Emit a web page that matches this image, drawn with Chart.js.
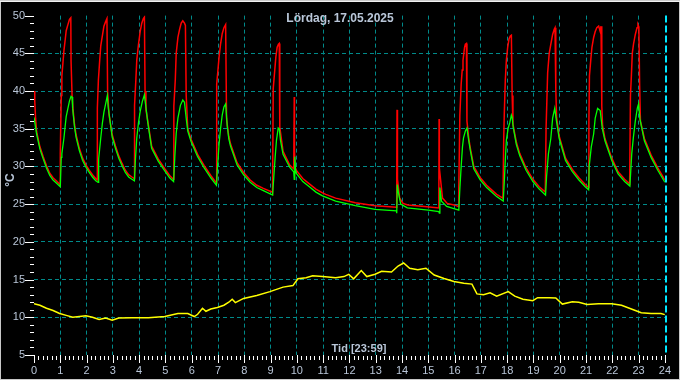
<!DOCTYPE html>
<html>
<head>
<meta charset="utf-8">
<script src="https://cdn.jsdelivr.net/npm/chart.js@4.4.1/dist/chart.umd.min.js"></script>
<style>
  html, body { margin: 0; padding: 0; background: #000; }
  canvas { display: block; }
</style>
</head>
<body>
<canvas id="tempChart" width="680" height="380"></canvas>
<script>
// supply (red), return (green), outdoor (yellow) - hours 0..24
var titleText = 'Lördag, 17.05.2025';
var xTitle = 'Tid [23:59]';
var yTitle = '°C';
var hourTicks = [0, 24];
var tempTicks = [5, 50];

var redTime = [0.00, 0.03, 0.06, 0.10, 0.225, 0.35, 0.475, 0.60, 0.725, 0.85, 0.99,
    1.00, 1.037, 1.06, 1.10, 1.14, 1.19, 1.225, 1.29, 1.35, 1.40, 1.41, 1.45, 1.50, 1.54, 1.60, 1.725, 1.85, 1.975, 2.10, 2.225, 2.35, 2.40,
    2.41, 2.45, 2.50, 2.54, 2.60, 2.66, 2.725, 2.775, 2.80, 2.85, 2.975, 3.10, 3.225, 3.35, 3.475, 3.60, 3.725, 3.81,
    3.825, 3.875, 3.91, 3.975, 4.04, 4.10, 4.16, 4.20, 4.225, 4.26, 4.325, 4.475, 4.725, 4.975, 5.16, 5.30,
    5.32, 5.375, 5.41, 5.475, 5.54, 5.60, 5.66, 5.725, 5.76, 5.79, 5.85, 5.975, 6.225, 6.475, 6.725, 6.94,
    6.95, 7.04, 7.10, 7.16, 7.225, 7.29, 7.325, 7.35, 7.41, 7.475, 7.725, 7.975, 8.225, 8.475, 8.725, 9.06,
    9.075, 9.10, 9.16, 9.20, 9.25, 9.30, 9.33, 9.35, 9.475, 9.725, 9.88, 9.90, 9.91, 9.93, 9.975, 10.225, 10.475, 10.725, 10.975, 11.1, 11.475, 12.225, 12.975, 13.79,
    13.80, 13.81, 13.82, 13.835, 13.91, 14.04, 14.22, 14.85, 15.40, 15.41, 15.42, 15.54, 15.72, 15.975, 16.15,
    16.16, 16.20, 16.25, 16.29, 16.32, 16.38, 16.41, 16.45, 16.47, 16.54, 16.60, 16.73, 16.98, 17.22, 17.41, 17.60, 17.84,
    17.87, 17.89, 17.93, 17.97, 18.02, 18.07, 18.12, 18.16, 18.19, 18.22, 18.35, 18.48, 18.72, 18.98, 19.22, 19.45,
    19.48, 19.54, 19.60, 19.66, 19.73, 19.79, 19.82, 19.85, 19.88, 19.98, 20.22, 20.48, 20.73, 20.97, 21.10,
    21.11, 21.13, 21.18, 21.225, 21.29, 21.35, 21.41, 21.48, 21.54, 21.57, 21.60, 21.63, 21.72, 21.98, 22.22, 22.47, 22.66,
    22.69, 22.725, 22.76, 22.81, 22.875, 22.94, 22.975, 23.01, 23.04, 23.07, 23.22, 23.475, 23.73, 24.0];
var redTemp = [40.0, 38.6, 36.4, 34.6, 32.6, 31.3, 30.1, 29.1, 28.5, 28.1, 27.6,
    31.7, 39.4, 42.0, 43.7, 45.4, 46.9, 48.0, 48.8, 49.5, 49.7, 43.9, 39.2, 37.0, 35.6, 34.2, 32.4, 31.1, 30.2, 29.5, 28.9, 28.4, 28.2,
    37.7, 41.5, 44.1, 46.0, 47.3, 48.6, 49.2, 49.6, 39.9, 37.0, 34.2, 32.7, 31.4, 30.4, 29.5, 28.9, 28.6, 28.4,
    38.1, 41.5, 44.1, 46.2, 47.9, 49.0, 49.6, 49.8, 40.0, 37.5, 36.1, 32.7, 31.0, 29.7, 28.8, 28.3,
    38.0, 41.5, 45.0, 47.1, 48.2, 49.0, 49.3, 49.0, 48.7, 39.4, 35.0, 33.6, 31.6, 30.1, 28.8, 27.8,
    40.9, 44.5, 46.3, 47.6, 48.4, 48.8, 36.4, 35.6, 34.0, 33.0, 30.5, 29.2, 28.2, 27.5, 27.1, 26.6,
    26.5, 40.3, 42.8, 44.5, 45.8, 46.2, 46.3, 35.2, 32.0, 30.2, 29.7, 39.2, 32.2, 30.0, 29.5, 28.4, 27.7, 27.0, 26.5, 26.3, 25.8, 25.2, 24.8, 24.6,
    28.3, 37.5, 31.7, 28.3, 25.8, 25.1, 24.9, 24.7, 24.5, 36.3, 29.8, 25.8, 25.1, 24.9, 24.7,
    27.0, 36.8, 40.9, 42.8, 44.1, 45.8, 46.2, 46.3, 36.0, 33.7, 32.4, 30.0, 28.5, 27.5, 26.9, 26.3, 25.8,
    33.8, 36.9, 41.5, 44.1, 45.8, 46.9, 47.3, 47.4, 39.4, 35.6, 33.2, 31.7, 29.8, 28.3, 27.3, 26.6,
    35.0, 42.4, 45.0, 46.2, 47.5, 48.2, 48.4, 40.3, 36.5, 34.0, 31.1, 29.6, 28.5, 27.6, 27.2,
    36.0, 42.0, 44.1, 45.8, 47.1, 47.9, 48.4, 48.6, 47.9, 48.6, 38.0, 35.4, 33.7, 31.1, 29.3, 28.3, 27.7,
    39.4, 42.0, 45.0, 46.3, 47.5, 48.4, 48.8, 48.5, 40.7, 36.0, 33.7, 31.5, 29.8, 28.2];

var greenTime = [0.00, 0.10, 0.225, 0.35, 0.475, 0.60, 0.725, 0.85, 1.00,
    1.037, 1.06, 1.14, 1.19, 1.225, 1.29, 1.35, 1.41, 1.45, 1.47, 1.54, 1.60, 1.725, 1.85, 1.975, 2.10, 2.225, 2.35, 2.44,
    2.46, 2.54, 2.60, 2.66, 2.725, 2.79, 2.82, 2.87, 2.975, 3.10, 3.225, 3.35, 3.475, 3.60, 3.725, 3.82,
    3.86, 3.91, 3.975, 4.04, 4.12, 4.20, 4.25, 4.325, 4.475, 4.725, 4.975, 5.16, 5.31,
    5.36, 5.41, 5.475, 5.57, 5.66, 5.725, 5.79, 5.85, 5.975, 6.225, 6.475, 6.725, 6.94,
    6.975, 7.04, 7.10, 7.16, 7.225, 7.29, 7.35, 7.41, 7.475, 7.725, 7.975, 8.225, 8.475, 8.725, 9.075,
    9.125, 9.175, 9.225, 9.29, 9.33, 9.375, 9.475, 9.725, 9.88, 9.90, 9.92, 9.95, 9.975, 10.225, 10.475, 10.725, 10.975, 11.475, 12.225, 12.975, 13.79,
    13.80, 13.82, 13.86, 13.95, 14.2, 15.0, 15.40, 15.42, 15.44, 15.5, 15.7, 16.16,
    16.20, 16.25, 16.30, 16.34, 16.41, 16.47, 16.54, 16.60, 16.73, 16.98, 17.22, 17.41, 17.60, 17.85,
    17.89, 17.93, 17.97, 18.04, 18.10, 18.16, 18.19, 18.23, 18.35, 18.48, 18.72, 18.98, 19.22, 19.46,
    19.50, 19.57, 19.66, 19.73, 19.81, 19.86, 19.98, 20.22, 20.48, 20.73, 20.97, 21.10,
    21.12, 21.20, 21.29, 21.35, 21.44, 21.54, 21.62, 21.72, 21.98, 22.22, 22.47, 22.67,
    22.69, 22.74, 22.80, 22.875, 22.95, 23.00, 23.05, 23.22, 23.475, 23.73, 24.0];
var greenTemp = [36.5, 34.3, 32.3, 31.0, 29.8, 28.8, 28.2, 27.8, 27.3,
    31.2, 31.7, 33.8, 35.5, 36.6, 37.7, 38.7, 39.3, 39.2, 37.7, 35.3, 33.9, 32.1, 30.8, 29.9, 29.2, 28.6, 28.1, 27.9,
    31.0, 33.8, 35.7, 37.2, 38.3, 39.4, 38.0, 36.6, 33.9, 32.4, 31.1, 30.1, 29.2, 28.6, 28.3, 28.1,
    31.0, 33.8, 35.8, 37.3, 38.6, 39.5, 38.1, 35.9, 32.4, 30.7, 29.4, 28.5, 28.0,
    31.5, 34.4, 36.4, 38.1, 38.8, 38.5, 36.4, 34.7, 33.3, 31.3, 29.8, 28.5, 27.5,
    29.6, 33.0, 35.1, 36.8, 37.9, 38.3, 35.4, 33.7, 32.7, 30.2, 28.9, 27.9, 27.2, 26.8, 26.2,
    28.7, 31.3, 33.5, 35.1, 35.0, 33.5, 31.6, 29.9, 29.3, 28.3, 31.3, 29.5, 29.1, 28.0, 27.3, 26.6, 26.1, 25.4, 24.8, 24.3, 24.1,
    23.8, 27.6, 26.6, 25.0, 24.5, 24.2, 24.0, 23.8, 27.2, 25.4, 24.7, 24.2,
    27.0, 30.0, 32.6, 33.8, 34.7, 35.1, 33.4, 32.1, 29.7, 28.2, 27.2, 26.6, 26.0, 25.4,
    27.9, 30.9, 33.5, 35.1, 35.8, 36.8, 36.5, 35.2, 32.9, 31.4, 29.5, 28.0, 27.0, 26.2,
    28.7, 31.7, 33.7, 36.4, 37.7, 36.4, 33.7, 30.8, 29.3, 28.2, 27.3, 26.9,
    30.0, 32.6, 34.3, 36.4, 37.7, 37.4, 35.0, 33.4, 30.8, 29.0, 28.0, 27.4,
    28.7, 31.7, 33.8, 36.0, 37.7, 38.3, 36.3, 33.4, 31.2, 29.5, 27.9];

var outTime = [0.0, 0.225, 0.475, 0.725, 0.975, 1.225, 1.475, 1.725, 1.975, 2.225, 2.475, 2.725, 2.975, 3.225, 3.725,
    4.35, 4.975, 5.475, 5.85, 6.1, 6.225, 6.41, 6.54, 6.725, 6.975, 7.225, 7.41, 7.54, 7.66, 7.975, 8.475, 8.975,
    9.475, 9.85, 10.04, 10.35, 10.6, 10.975, 11.475, 11.79, 11.975, 12.16, 12.45, 12.66, 12.975, 13.225, 13.6,
    13.85, 14.06, 14.29, 14.6, 14.91, 15.225, 15.6, 15.975, 16.35, 16.66, 16.85, 17.1, 17.35, 17.6, 18.04, 18.29,
    18.6, 18.975, 19.16, 19.6, 19.85, 20.1, 20.48, 20.725, 21.04, 21.475, 21.975, 22.35, 22.725, 23.1, 23.475, 23.85, 24.0];
var outTemp = [11.8, 11.6, 11.2, 10.9, 10.5, 10.25, 10.0, 10.1, 10.2, 10.0, 9.7, 9.9, 9.6, 9.9, 9.95,
    9.95, 10.1, 10.5, 10.5, 10.1, 10.4, 11.2, 10.8, 11.1, 11.3, 11.6, 12.0, 12.4, 11.95, 12.5, 12.9, 13.4,
    14.0, 14.2, 15.1, 15.25, 15.5, 15.4, 15.25, 15.4, 15.7, 15.1, 16.2, 15.4, 15.7, 16.1, 16.0,
    16.8, 17.2, 16.5, 16.3, 16.5, 15.6, 15.15, 14.75, 14.5, 14.4, 13.1, 13.0, 13.25, 12.8, 13.4, 12.8,
    12.4, 12.2, 12.6, 12.6, 12.55, 11.75, 12.05, 12.0, 11.7, 11.8, 11.8, 11.6, 11.1, 10.6, 10.5, 10.5, 10.35];

function toPoints(times, temps) {
    return times.map(function(t, i) { return { x: t, y: temps[i] }; });
}

var labelColor = '#b9c6d8';
var gridColor = '#008a8a';

var decorPlugin = {
    id: 'decor',
    beforeDraw: function(chart) {
        var ctx = chart.ctx;
        ctx.save();
        ctx.fillStyle = '#000000';
        ctx.fillRect(0, 0, chart.width, chart.height);
        ctx.restore();
    },
    afterDraw: function(chart) {
        var ctx = chart.ctx;
        var x = chart.scales.x, y = chart.scales.y, a = chart.chartArea;
        ctx.save();
        // tick marks (minor + major)
        ctx.strokeStyle = '#ffffff';
        ctx.lineWidth = 1;
        ctx.beginPath();
        for (var v = tempTicks[0]; v <= tempTicks[1]; v++) {
            var py = Math.round(y.getPixelForValue(v)) + 0.5;
            var len = v % 5 === 0 ? 9 : 4;
            ctx.moveTo(a.left - len, py);
            ctx.lineTo(a.left, py);
        }
        for (var m = hourTicks[0] * 6; m <= hourTicks[1] * 6; m++) {
            var px = Math.round(x.getPixelForValue(m / 6)) + 0.5;
            if (m % 6 === 0) {
                ctx.moveTo(px, a.bottom);
                ctx.lineTo(px, a.bottom + 8);
            } else {
                ctx.moveTo(px, a.bottom + 1);
                ctx.lineTo(px, a.bottom + 5);
            }
        }
        ctx.stroke();

        // current time marker
        var nowX = Math.round(x.getPixelForValue(hourTicks[1])) + 1;
        ctx.strokeStyle = '#00e8ff';
        ctx.lineWidth = 2;
        ctx.setLineDash([7, 3]);
        ctx.beginPath();
        ctx.moveTo(nowX, a.top);
        ctx.lineTo(nowX, a.bottom);
        ctx.stroke();
        ctx.setLineDash([]);

        // texts
        ctx.fillStyle = labelColor;
        ctx.textAlign = 'center';
        ctx.textBaseline = 'middle';
        ctx.font = 'bold 12px "Liberation Sans", Arial, sans-serif';
        ctx.fillText(titleText, chart.width / 2, 19);
        ctx.font = 'bold 11px "Liberation Sans", Arial, sans-serif';
        ctx.fillText(xTitle, 359, 349);
        ctx.save();
        ctx.translate(11, 180);
        ctx.rotate(-Math.PI / 2);
        ctx.font = 'bold 12px "Liberation Sans", Arial, sans-serif';
        ctx.fillText(yTitle, 0, 0);
        ctx.restore();

        // frame
        ctx.strokeStyle = '#c8c8c8';
        ctx.lineWidth = 1;
        ctx.strokeRect(0.5, 0.5, chart.width - 1, chart.height - 1);
        ctx.strokeStyle = '#f0f0f0';
        ctx.beginPath();
        ctx.moveTo(0, 1.5);
        ctx.lineTo(chart.width, 1.5);
        ctx.stroke();
        ctx.restore();
    }
};

var ctx = document.getElementById('tempChart').getContext('2d');
var tempChart = new Chart(ctx, {
    type: 'line',
    data: {
        datasets: [{
            label: 'Retur',
            data: toPoints(greenTime, greenTemp),
            borderColor: '#00ff00',
            borderWidth: 1.3,
            order: 1
        }, {
            label: 'Tur',
            data: toPoints(redTime, redTemp),
            borderColor: '#ff0000',
            borderWidth: 1.5,
            order: 2
        }, {
            label: 'Ute',
            data: toPoints(outTime, outTemp),
            borderColor: '#ffff00',
            borderWidth: 1.5,
            order: 3
        }]
    },
    options: {
        responsive: false,
        animation: false,
        devicePixelRatio: 1,
        layout: { padding: { top: 4, right: 6, left: 0, bottom: 0 } },
        elements: { point: { radius: 0 }, line: { tension: 0 } },
        plugins: {
            legend: { display: false },
            tooltip: { enabled: false }
        },
        scales: {
            x: {
                type: 'linear',
                min: hourTicks[0],
                max: hourTicks[1],
                afterFit: function(scale) { scale.height = 25; },
                ticks: {
                    stepSize: 1,
                    color: labelColor,
                    padding: 9,
                    maxRotation: 0,
                    autoSkip: false,
                    font: { family: '"Liberation Sans", Arial, sans-serif', size: 11 }
                },
                grid: {
                    drawTicks: false,
                    lineWidth: 1,
                    color: function(c) {
                        var v = c.tick ? c.tick.value : null;
                        return (v === hourTicks[0] || v === hourTicks[1]) ? 'rgba(0,0,0,0)' : gridColor;
                    }
                },
                border: { display: false, dash: [4, 3] }
            },
            y: {
                min: tempTicks[0],
                max: tempTicks[1],
                afterFit: function(scale) { scale.width = 34; },
                ticks: {
                    stepSize: 5,
                    color: labelColor,
                    padding: 9,
                    font: { family: '"Liberation Sans", Arial, sans-serif', size: 11 }
                },
                grid: {
                    drawTicks: false,
                    lineWidth: 1,
                    color: function(c) {
                        var v = c.tick ? c.tick.value : null;
                        return (v === tempTicks[0] || v === tempTicks[1]) ? 'rgba(0,0,0,0)' : gridColor;
                    }
                },
                border: { display: false, dash: [4, 3] }
            }
        }
    },
    plugins: [decorPlugin]
});
</script>
</body>
</html>
